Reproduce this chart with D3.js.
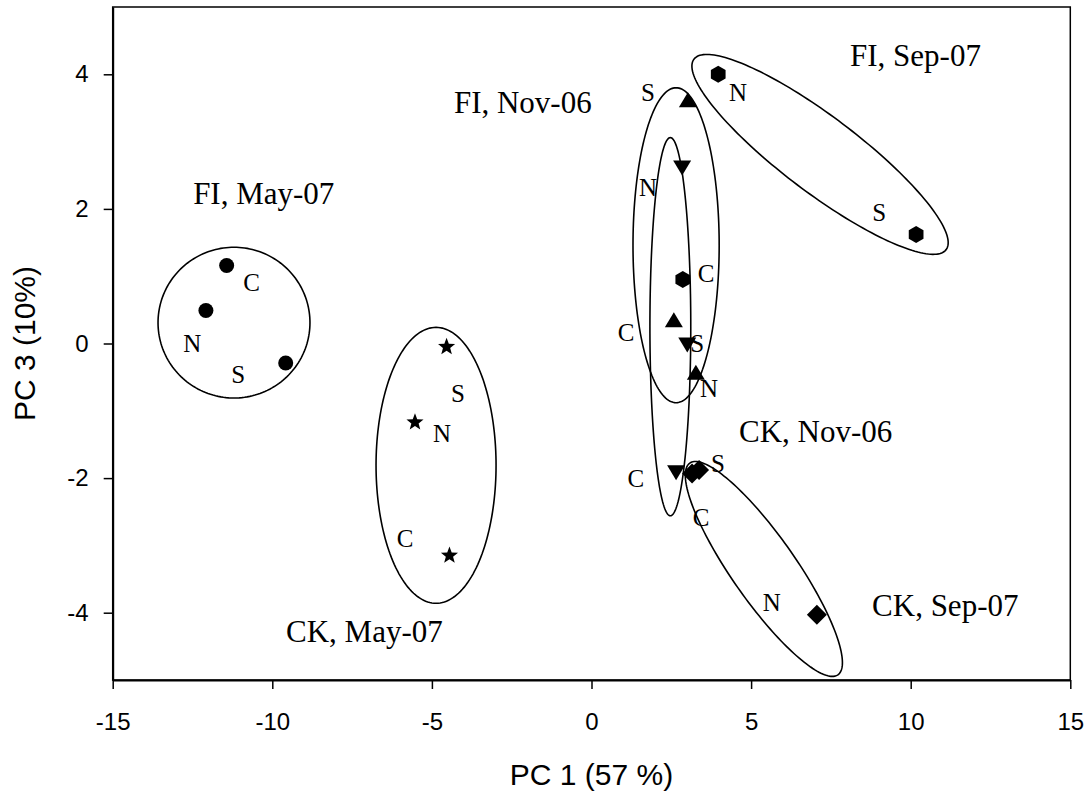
<!DOCTYPE html>
<html><head><meta charset="utf-8">
<script src="https://cdn.jsdelivr.net/npm/d3@7"></script>
<style>body{margin:0;background:#fff}</style>
</head><body><svg id="c" width="1092" height="796"></svg>
<script>
// ---------- data ----------
const groups = ["FI, May-07", "CK, May-07", "FI, Nov-06", "CK, Nov-06", "FI, Sep-07", "CK, Sep-07"];
const groupShapes = ["circle", "star", "triangleUp", "triangleDown", "hexagon", "diamond"];
const sites = ["C", "N", "S"];
// PC1 / PC3 scores per group, in site order C, N, S
const pc1 = [
  [-11.43, -12.08, -9.58],
  [-4.45, -5.53, -4.54],
  [2.58, 3.27, 3.02],
  [2.65, 2.84, 3.00],
  [2.86, 3.97, 10.17],
  [3.15, 7.06, 3.37]
];
const pc3 = [
  [1.16, 0.49, -0.29],
  [-3.15, -1.17, -0.05],
  [0.33, -0.45, 3.60],
  [-1.90, 2.63, 0.00],
  [0.95, 4.00, 1.62],
  [-1.93, -4.03, -1.88]
];
// site letter annotation anchors (data units)
const labelPc1 = [
  [-10.65, -12.51, -11.07],
  [-5.84, -4.68, -4.18],
  [1.08, 3.68, 1.77],
  [1.39, 1.77, 3.31],
  [3.59, 4.59, 9.01],
  [3.43, 5.65, 3.96]
];
const labelPc3 = [
  [0.91, 0.00, -0.46],
  [-2.90, -1.34, -0.74],
  [0.16, -0.67, 3.72],
  [-2.01, 2.31, 0.00],
  [1.04, 3.72, 1.95],
  [-2.59, -3.85, -1.79]
];
// group title anchors (data units, left/baseline)
const titlePc1 = [-12.48, -9.57, -4.31, 4.62, 8.10, 8.79];
const titlePc3 = [2.08, -4.43, 3.42, -1.47, 4.12, -4.05];
// grouping ellipses: centre + two semi-axis vectors (data units)
const ellCenter1 = [-11.2, -4.87, 2.65, 2.47, 7.16, 5.40];
const ellCenter3 = [0.31, -1.81, 1.46, 0.25, 2.81, -3.35];
const ellAxisA = [[2.38, 0], [1.88, 0], [1.35, 0], [0.64, 0], [3.95, -1.415], [2.32, -1.573]];
const ellAxisB = [[0, 1.12], [0, 2.05], [0, 2.34], [0, 2.81], [-0.717, -0.451], [-0.821, -0.274]];
const xTicks = [-15, -10, -5, 0, 5, 10, 15];
const yTicks = [-4, -2, 0, 2, 4];
const xTitle = "PC 1 (57 %)";
const yTitle = "PC 3 (10%)";

// ---------- drawing ----------
const svg = d3.select("#c");
const x = d3.scaleLinear().domain([-15, 15]).range([112.7, 1070.3]);
const y = d3.scaleLinear().domain([-5, 5]).range([680, 7]);
const sans = "'Liberation Sans', Arial, sans-serif";
const serif = "'Liberation Serif', 'Times New Roman', serif";
const fmt = d => String(d);

// frame
svg.append("rect").attr("x", x(-15)).attr("y", y(5))
  .attr("width", x(15) - x(-15)).attr("height", y(-5) - y(5))
  .attr("fill", "none").attr("stroke", "#000").attr("stroke-width", 1.5);

const gx = svg.append("g").attr("transform", `translate(0,${y(-5)})`)
  .call(d3.axisBottom(x).tickValues(xTicks).tickFormat(fmt).tickSize(9).tickPadding(24).tickSizeOuter(0));
const gy = svg.append("g").attr("transform", `translate(${x(-15)},0)`)
  .call(d3.axisLeft(y).tickValues(yTicks).tickFormat(fmt).tickSize(9).tickPadding(15).tickSizeOuter(0));
[gx, gy].forEach(g => {
  g.select(".domain").attr("stroke-width", 2);
  g.selectAll(".tick line").attr("stroke-width", 1.5);
  g.selectAll("text").attr("font-family", sans).attr("font-size", 24).attr("fill", "#000");
});

svg.append("text").attr("x", (x(-15) + x(15)) / 2).attr("y", 785)
  .attr("text-anchor", "middle").attr("font-family", sans).attr("font-size", 30).text(xTitle);
svg.append("text").attr("transform", `translate(35,${(y(-5) + y(5)) / 2}) rotate(-90)`)
  .attr("text-anchor", "middle").attr("font-family", sans).attr("font-size", 30).text(yTitle);

// ellipses
const line = d3.line().x(d => x(d[0])).y(d => y(d[1])).curve(d3.curveLinearClosed);
groups.forEach((g, i) => {
  const pts = d3.range(0, 360, 2).map(deg => {
    const t = deg * Math.PI / 180;
    return [ellCenter1[i] + ellAxisA[i][0] * Math.cos(t) + ellAxisB[i][0] * Math.sin(t),
            ellCenter3[i] + ellAxisA[i][1] * Math.cos(t) + ellAxisB[i][1] * Math.sin(t)];
  });
  svg.append("path").attr("d", line(pts)).attr("fill", "none")
    .attr("stroke", "#000").attr("stroke-width", 1.6);
});

// marker shapes (pixel paths around 0,0)
function poly(p) { return "M" + p.map(d => d.join(",")).join("L") + "Z"; }
function shapePath(s) {
  if (s === "circle") return d3.symbol(d3.symbolCircle, Math.PI * 7.5 * 7.5)();
  if (s === "triangleUp") return poly([[0, -9], [9, 6], [-9, 6]]);
  if (s === "triangleDown") return poly([[0, 9], [9, -6], [-9, -6]]);
  if (s === "diamond") return poly([[0, -10], [10, 0], [0, 10], [-10, 0]]);
  if (s === "hexagon") return poly(d3.range(6).map(k => {
    const a = (k * 60 - 90) * Math.PI / 180; return [8.5 * Math.cos(a), 8.5 * Math.sin(a)];
  }));
  if (s === "star") return poly(d3.range(10).map(k => {
    const r = k % 2 === 0 ? 9 : 3.8; const a = (k * 36 - 90) * Math.PI / 180;
    return [r * Math.cos(a), r * Math.sin(a)];
  }));
}

groups.forEach((g, i) => {
  sites.forEach((s, j) => {
    svg.append("path").attr("d", shapePath(groupShapes[i]))
      .attr("transform", `translate(${x(pc1[i][j])},${y(pc3[i][j])})`).attr("fill", "#000");
    svg.append("text").attr("x", x(labelPc1[i][j])).attr("y", y(labelPc3[i][j]))
      .attr("dy", "0.33em").attr("text-anchor", "middle")
      .attr("font-family", serif).attr("font-size", 25).text(s);
  });
  svg.append("text").attr("x", x(titlePc1[i])).attr("y", y(titlePc3[i]))
    .attr("font-family", serif).attr("font-size", 31).text(g);
});
</script></body></html>
